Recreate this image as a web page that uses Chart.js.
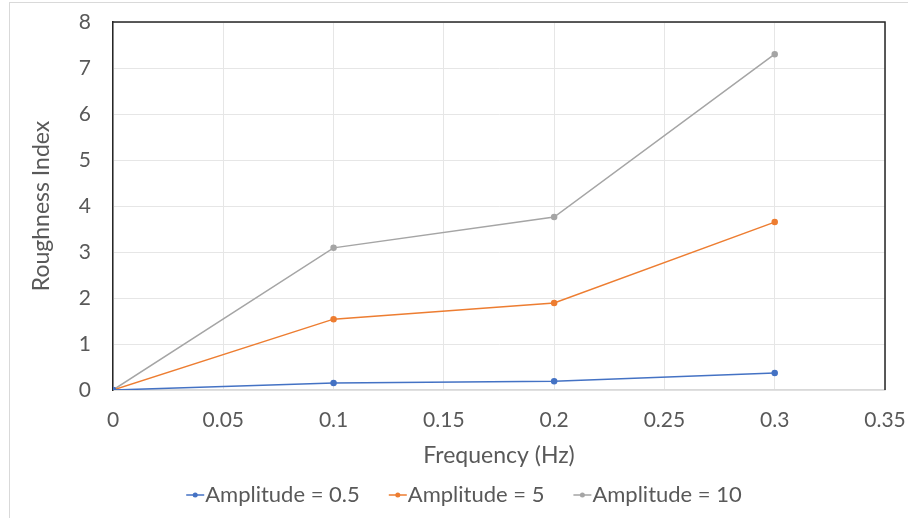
<!DOCTYPE html>
<html lang="en">
<head>
    <meta charset="UTF-8">
    <title>Roughness Index vs Frequency</title>
    <script src="https://cdn.jsdelivr.net/npm/chart.js"></script>
    <style>
        body { margin: 0; background: #fff; }
    </style>
</head>
<body>
    <canvas id="grafico" width="908" height="518"></canvas>

    <script>
        // Data
        const frequency = [0, 0.1, 0.2, 0.3];
        const amp05 = [0, 0.15, 0.19, 0.37];
        const amp5 = [0, 1.54, 1.89, 3.65];
        const amp10 = [0, 3.09, 3.76, 7.30];
        const seriesNames = ['Amplitude = 0.5', 'Amplitude = 5', 'Amplitude = 10'];
        const seriesColors = ['#4472C4', '#ED7D31', '#A5A5A5'];

        const FONT = "Lato, Calibri, 'Liberation Sans', sans-serif";
        const TEXT_COLOR = '#595959';

        function toPoints(ys) {
            return frequency.map((x, i) => ({ x: x, y: ys[i] }));
        }

        // Frame lines: outer chart border + top/right of plot area
        const frames = {
            id: 'frames',
            afterDraw(chart) {
                const { ctx, chartArea } = chart;
                ctx.save();
                ctx.strokeStyle = '#D9D9D9';
                ctx.lineWidth = 1;
                ctx.strokeRect(9.5, 2.5, 1000, 1000);
                ctx.strokeStyle = '#262626';
                ctx.lineWidth = 1.5;
                ctx.beginPath();
                ctx.moveTo(chartArea.left, chartArea.top);
                ctx.lineTo(chartArea.right, chartArea.top);
                ctx.lineTo(chartArea.right, chartArea.bottom);
                ctx.stroke();
                ctx.restore();
            }
        };

        // Excel-style legend: short line with a dot, then the label
        const lineLegend = {
            id: 'lineLegend',
            afterDraw(chart) {
                const { ctx } = chart;
                const y = 495, markW = 18, gap = 1, itemGap = 29, centerX = 464;
                ctx.save();
                ctx.font = '22px ' + FONT;
                ctx.textBaseline = 'middle';
                const items = chart.data.datasets.map(ds => ({
                    text: ds.label, color: ds.borderColor, w: ctx.measureText(ds.label).width
                }));
                let total = items.reduce((s, it) => s + markW + gap + it.w, 0) + itemGap * (items.length - 1);
                let x = centerX - total / 2;
                items.forEach(it => {
                    ctx.strokeStyle = it.color;
                    ctx.lineWidth = 1.5;
                    ctx.beginPath();
                    ctx.moveTo(x, y);
                    ctx.lineTo(x + markW, y);
                    ctx.stroke();
                    ctx.fillStyle = it.color;
                    ctx.beginPath();
                    ctx.arc(x + markW / 2, y, 2.5, 0, Math.PI * 2);
                    ctx.fill();
                    ctx.fillStyle = TEXT_COLOR;
                    ctx.fillText(it.text, x + markW + gap, y);
                    x += markW + gap + it.w + itemGap;
                });
                ctx.restore();
            }
        };

        const datasets = [amp05, amp5, amp10].map((ys, i) => ({
            label: seriesNames[i],
            data: toPoints(ys),
            borderColor: seriesColors[i],
            backgroundColor: seriesColors[i],
            borderWidth: 1.5,
            pointRadius: 2.5,
            pointHoverRadius: 2.5,
            fill: false,
            tension: 0
        }));

        const ctx = document.getElementById('grafico').getContext('2d');
        new Chart(ctx, {
            type: 'line',
            data: { datasets: datasets },
            options: {
                responsive: false,
                animation: false,
                layout: { padding: { top: 22, right: 23, left: 10, bottom: 45 } },
                plugins: {
                    tooltip: { enabled: false },
                    legend: { display: false }
                },
                scales: {
                    x: {
                        type: 'linear',
                        min: 0,
                        max: 0.35,
                        afterFit: s => { s.height = 83; s.paddingLeft = 0; s.paddingRight = 0; },
                        ticks: {
                            stepSize: 0.05,
                            padding: 18,
                            maxRotation: 0,
                            color: TEXT_COLOR,
                            font: { family: FONT, size: 21 },
                            callback: v => String(Math.round(v * 100) / 100)
                        },
                        grid: { color: '#E6E6E6', drawTicks: false },
                        border: { color: '#D9D9D9', width: 1.5 },
                        title: {
                            display: true,
                            text: 'Frequency (Hz)',
                            color: TEXT_COLOR,
                            font: { family: FONT, size: 23 },
                            padding: { top: 7, bottom: 4 }
                        }
                    },
                    y: {
                        min: 0,
                        max: 8,
                        afterFit: s => { s.width = 103; s.paddingTop = 0; s.paddingBottom = 0; },
                        ticks: {
                            stepSize: 1,
                            padding: 22,
                            color: TEXT_COLOR,
                            font: { family: FONT, size: 21 }
                        },
                        grid: { color: '#E6E6E6', drawTicks: false },
                        border: { color: '#262626', width: 1.5 },
                        title: {
                            display: true,
                            text: 'Roughness Index',
                            color: TEXT_COLOR,
                            font: { family: FONT, size: 23 },
                            padding: { top: 18, bottom: 2 }
                        }
                    }
                }
            },
            plugins: [frames, lineLegend]
        });
    </script>
</body>
</html>
